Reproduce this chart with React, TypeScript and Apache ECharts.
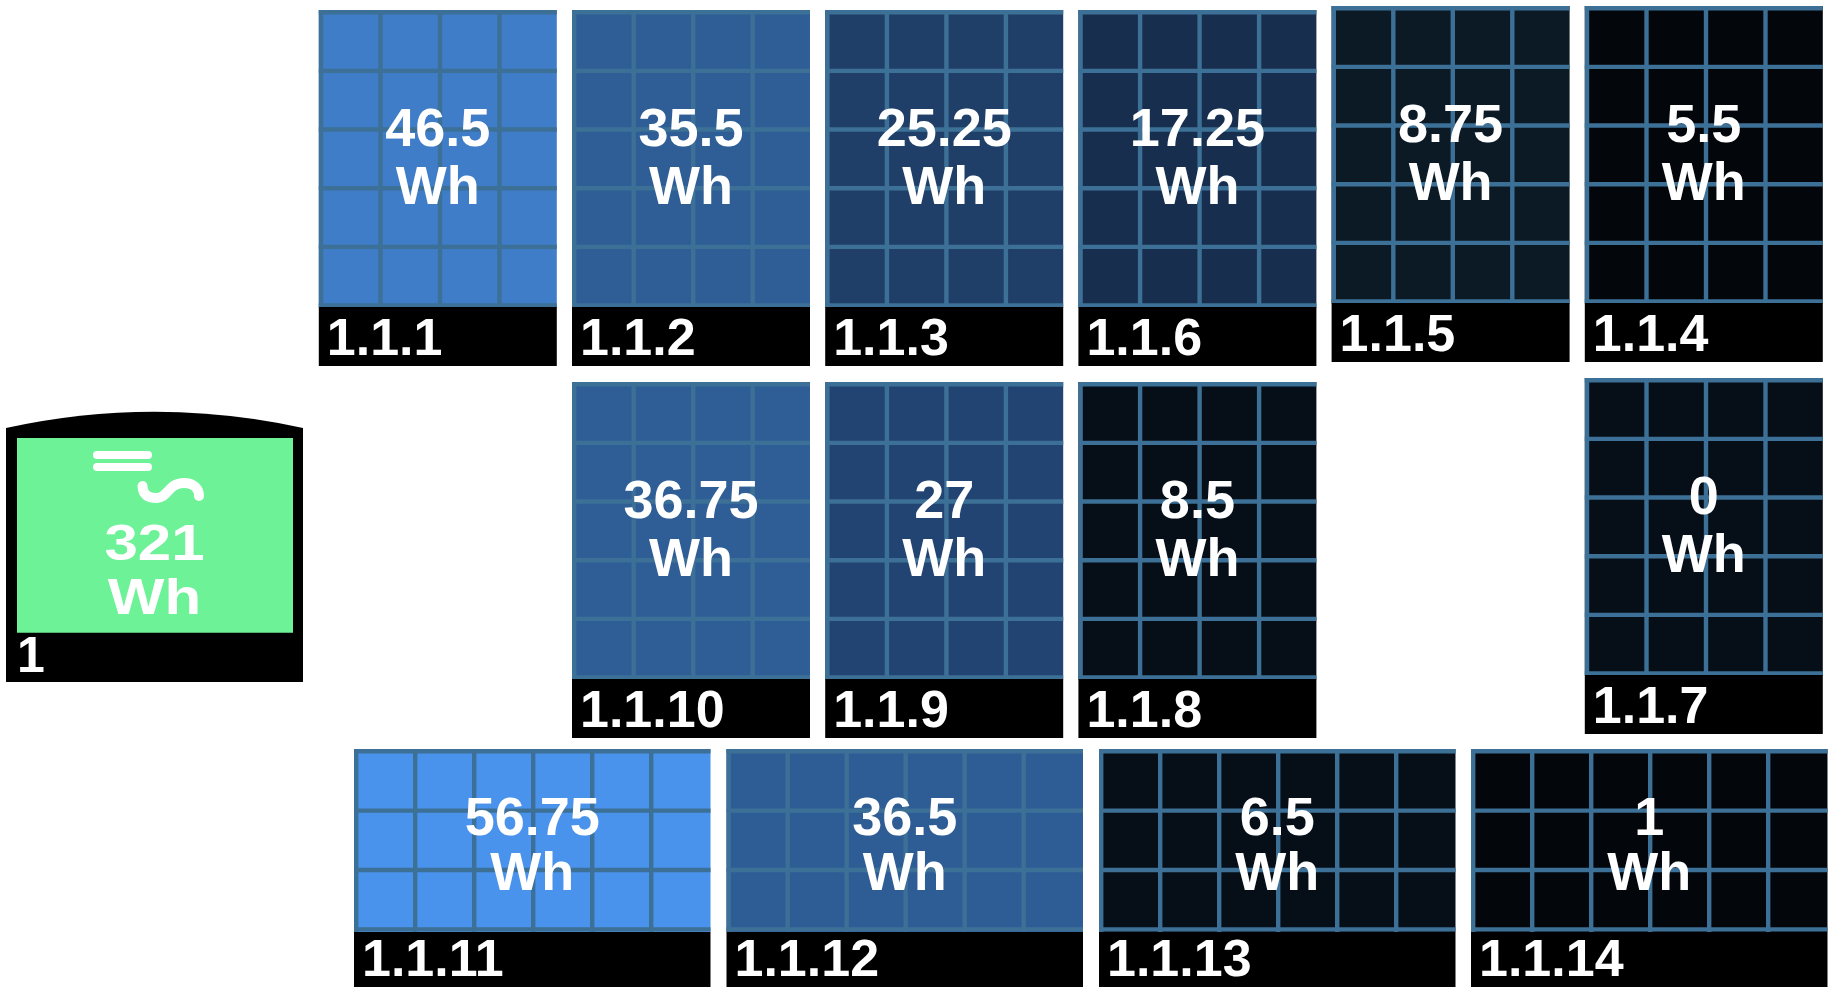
import React, { useEffect, useRef } from "react";
import * as echarts from "echarts";

const tileIds = ["1.1.1","1.1.2","1.1.3","1.1.6","1.1.5","1.1.4","1.1.10","1.1.9","1.1.8","1.1.7","1.1.11","1.1.12","1.1.13","1.1.14"];
const tileValues = [46.5,35.5,25.25,17.25,8.75,5.5,36.75,27,8.5,0,56.75,36.5,6.5,1];
const totalId = "1";
const totalValue = 321;
const unit = "Wh";

const tileFills = ["#3f7dc9","#2f5e96","#203f68","#182e4e","#0c1a26","#03060b","#2f5e96","#224473","#060f18","#060f18","#4a93ec","#2e5c94","#060f18","#03060b"];
const tileLeft = [318.8,572,825.2,1078.4,1331.6,1584.8,572,825.2,1078.4,1584.8,354,726.5,1099,1471];
const tileTop = [10,10,10,10,6,6,382,382,382,378,749,749,749,749];
const tileCols = [4,4,4,4,4,4,4,4,4,4,6,6,6,6];
const tileRows = [5,5,5,5,5,5,5,5,5,5,3,3,3,3];

const gridColor = "#3d7096";
const font = "Liberation Sans";

function renderTile(params: any, api: any) {
  const i = api.value(0);
  const p = api.coord([tileLeft[i], tileTop[i]]);
  const wide = tileCols[i] === 6;
  const cw = wide ? 59.0 : 59.5;
  const ch = wide ? 59.4 : 58.66;
  const w = wide ? 356.5 : 238;
  const bandTop = wide ? 183 : 297;
  const h = wide ? 238 : 356;
  const children: any[] = [];
  children.push({ type: "rect", shape: { x: 0, y: 0, width: w, height: bandTop }, style: { fill: tileFills[i] } });
  for (let c = 0; c < tileCols[i]; c++) {
    const x = 2.2 + c * cw;
    children.push({ type: "line", shape: { x1: x, y1: 0, x2: x, y2: bandTop }, style: { stroke: gridColor, lineWidth: 4.4 } });
  }
  for (let r = 0; r <= tileRows[i]; r++) {
    const y = 2.2 + r * ch;
    children.push({ type: "line", shape: { x1: 0, y1: y, x2: w, y2: y }, style: { stroke: gridColor, lineWidth: 4.4 } });
  }
  children.push({ type: "rect", shape: { x: 0, y: bandTop, width: w, height: h - bandTop }, style: { fill: "#000000" } });
  const base1 = wide ? 82.7 : 133;
  const base2 = wide ? 138 : 190.7;
  const txt = { fill: "#ffffff", fontFamily: font, fontWeight: "bold", fontSize: 54, textAlign: "center", textVerticalAlign: "bottom" };
  children.push({ type: "text", x: w / 2, y: base1 + 11, style: { ...txt, text: String(tileValues[i]) } });
  children.push({ type: "text", x: w / 2, y: base2 + 11, style: { ...txt, text: unit } });
  children.push({ type: "text", x: 8, y: h - 14 + 11, style: { ...txt, fontSize: 52, textAlign: "left", text: tileIds[i] } });
  return { type: "group", x: p[0], y: p[1], children };
}

const bodyPath = "M6 428 Q154.5 395.5 303 428 L303 682 L6 682 Z";
const wavePath = "M142.5 486 C143 497 151 498 157 498 C168 498 168 483 184 483 C194 483 199 489 199 496";

function renderTotal(params: any, api: any) {
  const o = api.coord([0, 0]);
  const txt = { fill: "#ffffff", fontFamily: font, fontWeight: "bold", fontSize: 50, textAlign: "center", textVerticalAlign: "bottom" };
  return {
    type: "group",
    x: o[0],
    y: o[1],
    children: [
      { type: "path", shape: { pathData: bodyPath, x: 6, y: 411.7, width: 297, height: 270.3, layout: "cover" }, style: { fill: "#000000" } },
      { type: "rect", shape: { x: 17, y: 438, width: 276, height: 194.7 }, style: { fill: "#6ef297" } },
      { type: "rect", shape: { x: 93, y: 451, width: 59, height: 8, r: 4 }, style: { fill: "#ffffff" } },
      { type: "rect", shape: { x: 93, y: 463, width: 59, height: 8, r: 4 }, style: { fill: "#ffffff" } },
      { type: "path", shape: { pathData: wavePath, x: 142.5, y: 483, width: 56.5, height: 15, layout: "cover" }, style: { fill: "none", stroke: "#ffffff", lineWidth: 10, lineCap: "round" } },
      { type: "text", x: 154.5, y: 558 + 10, scaleX: 1.2, originX: 0, style: { ...txt, text: String(totalValue) } },
      { type: "text", x: 154.5, y: 611.7 + 10, scaleX: 1.2, style: { ...txt, text: unit } },
      { type: "text", x: 17, y: 670 + 10, style: { ...txt, textAlign: "left", text: totalId } },
    ],
  };
}

export default function App() {
  const ref = useRef<HTMLDivElement>(null);
  useEffect(() => {
    document.body.style.margin = "0";
    const chart = echarts.init(ref.current!, undefined, { renderer: "svg" });
    chart.setOption({
      animation: false,
      backgroundColor: "#ffffff",
      grid: { left: 0, right: 0, top: 0, bottom: 0 },
      xAxis: { type: "value", min: 0, max: 1833, show: false },
      yAxis: { type: "value", min: 0, max: 995, inverse: true, show: false },
      series: [
        { type: "custom", coordinateSystem: "cartesian2d", silent: true, clip: false, renderItem: renderTotal, data: [[totalValue]], encode: { x: 0 } },
        { type: "custom", coordinateSystem: "cartesian2d", silent: true, clip: false, renderItem: renderTile, data: tileValues.map((v, i) => [i, v]), encode: { x: 0 } },
      ],
    });
    return () => chart.dispose();
  }, []);
  return <div ref={ref} style={{ width: 1833, height: 995 }} />;
}
